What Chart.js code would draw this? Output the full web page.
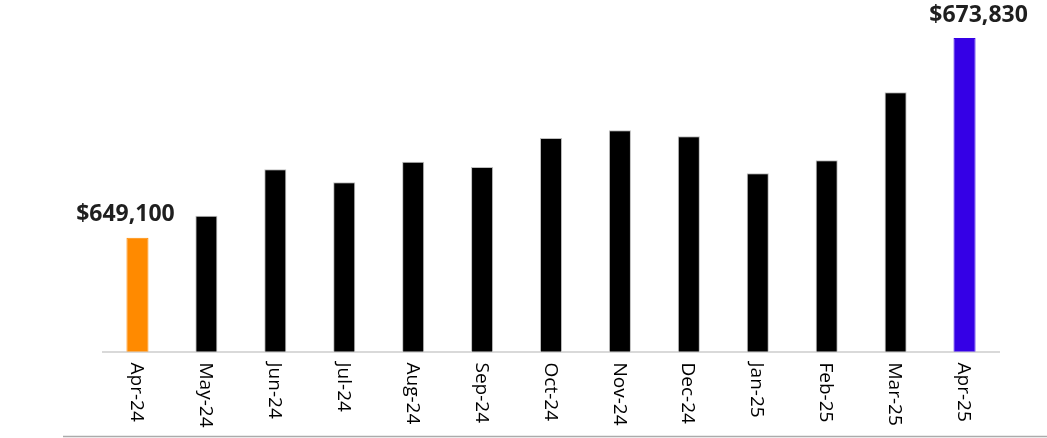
<!DOCTYPE html>
<html>
<head>
<meta charset="utf-8">
<script src="https://cdn.jsdelivr.net/npm/chart.js@4/dist/chart.umd.min.js"></script>
<style>
  html, body { margin: 0; padding: 0; background: #ffffff; }
  #wrap { width: 1047px; height: 438px; position: relative; }
</style>
</head>
<body>
<div id="wrap"><canvas id="c" width="1047" height="438"></canvas></div>
<script>
const categories = ['Apr-24','May-24','Jun-24','Jul-24','Aug-24','Sep-24','Oct-24','Nov-24','Dec-24','Jan-25','Feb-25','Mar-25','Apr-25'];
const revenue = [649100, 651830, 657570, 655960, 658510, 657860, 661450, 662400, 661650, 657080, 658680, 667100, 673830];
const labelledIndexes = [0, 12];
const yMin = 635000;
const yMax = 676000;

const barColors = categories.map((c, i) => i === 0 ? '#FF8A00' : (i === categories.length - 1 ? '#3500E6' : '#000000'));
const barBorders = categories.map((c, i) => (i === 0 || i === categories.length - 1) ? barColors[i] : '#BFBFBF');

const fmt = v => '$' + v.toLocaleString('en-US');

const decorations = {
  id: 'decorations',
  afterDraw(chart, args, opts) {
    const ctx = chart.ctx;
    const xs = chart.scales.x;
    const area = chart.chartArea;
    ctx.save();
    // rotated category labels (clockwise)
    ctx.fillStyle = '#000000';
    ctx.font = '19px "Open Sans"';
    ctx.textAlign = 'left';
    ctx.textBaseline = 'middle';
    categories.forEach((lab, i) => {
      const x = xs.getPixelForTick(i);
      ctx.save();
      ctx.translate(x - 1, area.bottom + 11);
      ctx.rotate(Math.PI / 2);
      ctx.fillText(lab, 0, 0);
      ctx.restore();
    });
    // data labels
    const meta = chart.getDatasetMeta(0);
    ctx.fillStyle = '#1f1f1f';
    ctx.font = 'bold 23px "Open Sans"';
    ctx.textAlign = 'center';
    ctx.textBaseline = 'alphabetic';
    labelledIndexes.forEach((idx, k) => {
      const bar = meta.data[idx];
      const dx = opts.offsets[k];
      ctx.fillText(fmt(revenue[idx]), bar.x + dx, bar.y - 16.5);
    });
    // outer bottom frame line
    ctx.strokeStyle = '#ABABAB';
    ctx.lineWidth = 1.5;
    ctx.beginPath();
    ctx.moveTo(63, chart.height - 1.5);
    ctx.lineTo(chart.width, chart.height - 1.5);
    ctx.stroke();
    ctx.restore();
  }
};

new Chart(document.getElementById('c'), {
  type: 'bar',
  data: {
    labels: categories,
    datasets: [{
      data: revenue,
      backgroundColor: barColors,
      borderColor: barBorders,
      borderWidth: 1,
      barPercentage: 0.32,
      categoryPercentage: 1.0
    }]
  },
  options: {
    responsive: false,
    devicePixelRatio: 1,
    animation: false,
    layout: { padding: { left: 103, right: 48, top: 20.5, bottom: 86.5 } },
    plugins: {
      legend: { display: false },
      tooltip: { enabled: false },
      decorations: { offsets: [-12, 14] }
    },
    scales: {
      x: {
        display: true,
        grid: { display: false, drawTicks: false },
        ticks: { display: false },
        border: { display: true, color: '#D9D9D9', width: 2 }
      },
      y: {
        display: false,
        min: yMin,
        max: yMax
      }
    }
  },
  plugins: [decorations]
});
</script>
</body>
</html>
